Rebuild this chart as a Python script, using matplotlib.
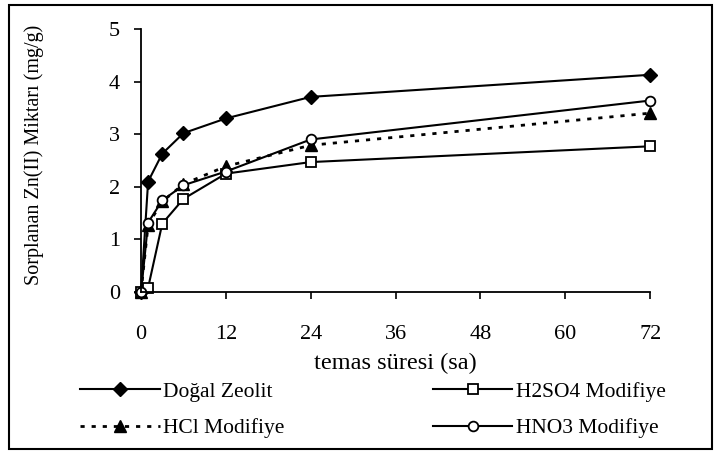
import numpy as np
import matplotlib
matplotlib.use('Agg')
import matplotlib.pyplot as plt
from matplotlib.patches import Rectangle

# time (hours) and sorbed Zn(II) amounts (mg/g)
time_h = [0, 1, 3, 6, 12, 24, 72]
dogal = [0, 2.10, 2.63, 3.02, 3.30, 3.71, 4.13]
h2so4 = [0, 0.08, 1.30, 1.77, 2.25, 2.47, 2.77]
hcl = [0, 1.28, 1.72, 2.05, 2.39, 2.79, 3.40]
hno3 = [0, 1.32, 1.74, 2.03, 2.29, 2.90, 3.64]

x_ticks = [0, 12, 24, 36, 48, 60, 72]
y_ticks = [0, 1, 2, 3, 4, 5]

plt.rcParams['font.family'] = ['Liberation Serif', 'DejaVu Serif']

fig = plt.figure(figsize=(7.16, 4.54), dpi=100)
ax = fig.add_axes([0.197, 0.357, 0.711, 0.579])

lw = 1.5
l1, = ax.plot(time_h, dogal, color='black', lw=lw, marker='D', ms=7,
              mfc='black', mec='black', label='Doğal Zeolit', clip_on=False)
l3, = ax.plot(time_h, hcl, color='black', lw=2, ls=(0, (1.5, 2.5)), marker='^', ms=8,
              mfc='black', mec='black', label='HCl Modifiye', clip_on=False)
l2, = ax.plot(time_h, h2so4, color='black', lw=lw, marker='s', ms=7,
              mfc='white', mec='black', mew=1.3, label='H2SO4 Modifiye', clip_on=False)
l4, = ax.plot(time_h, hno3, color='black', lw=lw, marker='o', ms=7,
              mfc='white', mec='black', mew=1.3, label='HNO3 Modifiye', clip_on=False)

ax.set_xlim(0, 72)
ax.set_ylim(0, 5)
ax.set_xticks(x_ticks)
ax.set_yticks(y_ticks)
ax.tick_params(direction='out', length=5, width=1.2, labelsize=16)
ax.tick_params(axis='y', pad=10)
ax.tick_params(axis='x', pad=19)
for s in ['top', 'right']:
    ax.spines[s].set_visible(False)
for s in ['left', 'bottom']:
    ax.spines[s].set_linewidth(1.3)

ax.set_xlabel('temas süresi (sa)', fontsize=17.5)
ax.xaxis.set_label_coords(0.5, -0.232)
ax.set_ylabel('Sorplanan Zn(II) Miktarı (mg/g)', fontsize=14.5)
ax.yaxis.set_label_coords(-0.19, 0.52)

fig.legend(handles=[l1, l3, l2, l4], ncol=2, loc='center left',
           bbox_to_anchor=(80 / 716, 1 - 410 / 454), frameon=False, fontsize=15.5,
           handlelength=3.7, handletextpad=0.15, columnspacing=6.9,
           labelspacing=0.75, borderpad=0, borderaxespad=0)

fig.patches.append(Rectangle((0.0126, 0.011), 0.982, 0.978, transform=fig.transFigure,
                             fill=False, edgecolor='black', lw=1.5))

fig.savefig('out.png', dpi=100)
